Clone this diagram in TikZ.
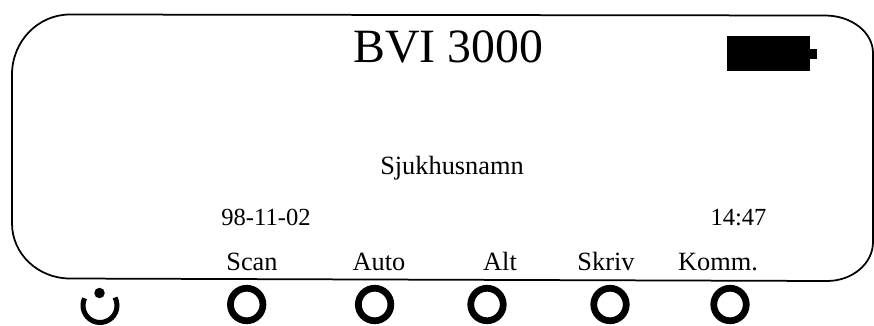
\documentclass[tikz,border=0pt]{standalone}
\usepackage{fontspec}
\setmainfont{Liberation Serif}
\tikzset{
	knapp/.style={shape=circle,draw=black,line width=0.135cm,inner sep=0pt,minimum size=0.65cm},
	etikett/.style={anchor=base,inner sep=0pt,font=\fontsize{15}{18}\selectfont},
	siffror/.style={anchor=base,inner sep=0pt,font=\fontsize{14}{18}\selectfont},
	svart/.style={shape=rectangle,fill=black,inner sep=0pt,outer sep=0pt},
}

\begin{document}
\begin{tikzpicture}[x=0.02cm,y=-0.02cm]
	
	\useasboundingbox (0, 0) rectangle (874, 325);
	
	% skarm
	\draw[line width=0.035cm] (70, 14.5) -- (825, 15.5)
		arc[start angle=-90,end angle=0,x radius=48,y radius=37.5] -- (873, 242)
		arc[start angle=0,end angle=90,x radius=46,y radius=39] -- (70, 278.5)
		arc[start angle=90,end angle=180,x radius=58,y radius=55] -- (12, 74.5)
		arc[start angle=180,end angle=270,x radius=58,y radius=60] -- cycle;
	
	\node[anchor=base,inner sep=0pt,font=\fontsize{27.2}{32}\selectfont] (titel) at (448.5, 62) {BVI 3000};
	\node[etikett] (sjukhus) at (452, 174) {Sjukhusnamn};
	\node[siffror] (datum) at (266, 225) {98-11-02};
	\node[siffror] (tid) at (738.5, 225) {14:47};
	
	\node[etikett] (scan) at (252, 270.5) {Scan};
	\node[etikett] (auto) at (379, 270.5) {Auto};
	\node[etikett] (alt) at (500, 270.5) {Alt};
	\node[etikett] (skriv) at (606, 270.5) {Skriv};
	\node[etikett] (komm) at (718, 270.5) {Komm.};
	
	\node[knapp] (b1) at (246.7, 304.5) {};
	\node[knapp] (b2) at (374.6, 304.5) {};
	\node[knapp] (b3) at (487, 304.5) {};
	\node[knapp] (b4) at (610, 304.5) {};
	\node[knapp] (b5) at (730, 304.5) {};
	
	% batteri
	\node[svart,minimum width=1.66cm,minimum height=0.7cm] (batteri) at (768.5, 53.5) {};
	\node[svart,minimum width=0.13cm,minimum height=0.2cm,anchor=west] (pol) at (batteri.east) {};
	
	% strom
	\node[shape=circle,fill=black,inner sep=0pt,minimum size=0.21cm] (prick) at (99.5, 293) {};
	\draw[line width=0.1cm] (84.6, 298.3) arc[start angle=205,end angle=-28,radius=17];
	
\end{tikzpicture}
\end{document}
